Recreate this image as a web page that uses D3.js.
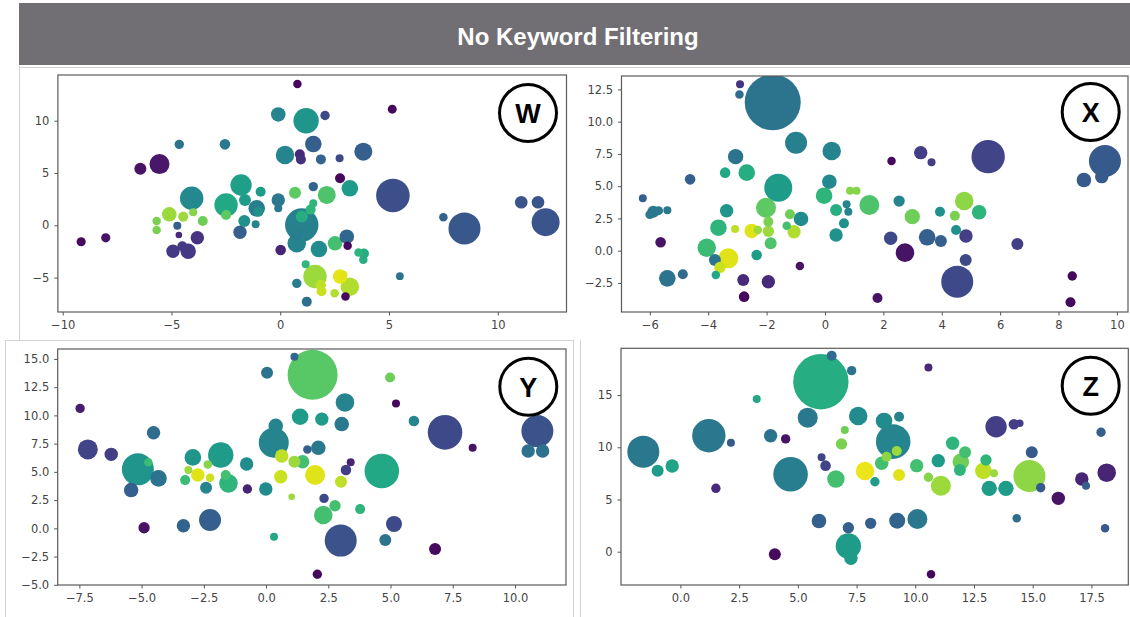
<!DOCTYPE html>
<html>
<head>
<meta charset="utf-8">
<script src="https://cdn.jsdelivr.net/npm/d3@7"></script>
<style>
  body { margin: 0; background: #fff; }
  svg { display: block; }
</style>
</head>
<body>
<svg id="chart" width="1130" height="617"></svg>
<script>
// ---- Panel W ----
const wX = [0.79,-0.09,1.19,2.06,5.15,-4.64,-2.54,1.52,3.82,0.22,0.9,0.95,1.87,2.73,-5.55,-6.43,2.75,-1.8,1.52,3.2,-0.9,0.68,2.14,-4.07,-2.49,-1.62,-1.08,-0.09,-0.09,1.52,1.4,-1.0,5.18,11.08,11.85,12.2,8.47,7.5,0.99,0.99,-5.1,-4.46,-4.0,-5.68,-5.68,-3.56,-4.73,-4.66,-3.81,-2.49,-1.65,-1.13,-1.85,-9.15,-8.02,-4.93,-4.23,-4.5,0.02,0.76,1.78,2.52,3.06,3.1,3.6,3.85,3.82,5.5,1.17,1.6,1.9,2.75,2.93,3.2,2.5,3.0,0.76,1.22,0.76,1.86];
const wY = [13.5,10.6,10.0,10.5,11.1,7.74,7.74,7.77,7.04,6.72,6.8,6.3,6.3,6.4,5.85,5.4,4.5,3.85,3.7,3.54,3.21,3.12,2.9,2.58,1.94,2.42,1.62,2.42,1.63,2.1,1.5,1.3,2.85,2.2,2.2,0.3,-0.3,0.77,0.03,0.83,1.05,0.82,1.24,0.41,-0.45,0.41,-0.04,-0.93,-1.19,0.98,0.41,0.1,-0.67,-1.57,-1.2,-2.48,-2.48,-2.0,-2.36,-1.72,-2.27,-1.72,-1.09,-1.95,-2.6,-2.7,-3.3,-4.86,-3.73,-4.9,-6.3,-4.9,-4.7,-5.87,-6.5,-6.8,-5.55,-7.3,-0.93,-5.7];
const wSize = [18,53,161,22,20,22,28,69,81,86,25,25,25,16,100,36,25,114,22,69,25,36,81,137,137,36,69,45,16,16,25,25,282,40,40,196,256,18,279,36,53,25,16,18,18,25,16,11,45,25,36,16,45,21,21,45,59,25,28,86,69,53,53,18,18,25,18,15,16,137,25,53,12,86,18,18,22,25,36,28];
const wTone = [0.02,0.45,0.52,0.22,0.02,0.38,0.4,0.3,0.3,0.45,0.12,0.14,0.32,0.22,0.06,0.05,0.02,0.56,0.32,0.55,0.55,0.75,0.72,0.47,0.6,0.55,0.42,0.4,0.4,0.65,0.65,0.5,0.24,0.26,0.26,0.26,0.27,0.32,0.43,0.62,0.85,0.85,0.82,0.8,0.8,0.78,0.3,0.12,0.15,0.75,0.5,0.45,0.3,0.03,0.05,0.17,0.17,0.17,0.1,0.45,0.48,0.7,0.33,0.02,0.65,0.62,0.62,0.38,0.66,0.85,0.92,0.96,0.95,0.88,0.88,0.02,0.42,0.36,0.42,0.9];
const wXTicks = [-10, -5, 0, 5, 10];
const wYTicks = [-5, 0, 5, 10];

// ---- Panel X ----
const xX = [-2.91,-2.93,-1.79,-0.99,0.23,-3.06,-3.42,-2.68,-4.62,-1.6,0.15,-0.03,0.86,1.08,1.52,0.74,0.8,0.65,0.38,0.38,-6.24,-5.88,-6.0,-5.7,-5.4,-3.37,-2.02,-1.2,-0.82,-1.94,-1.31,-3.65,-3.08,-2.51,-1.94,-2.3,-1.06,-1.86,-4.05,-5.63,-2.34,-3.31,-3.77,-3.6,-3.74,-5.4,-4.87,-0.86,-2.8,-1.94,-2.77,1.8,2.28,3.28,3.65,5.59,9.59,8.87,9.48,2.54,2.99,3.94,4.77,4.45,5.28,4.49,2.25,2.74,3.5,3.97,4.83,4.82,4.53,6.59,8.47,8.41];
const xY = [12.9,12.1,11.5,8.37,7.73,7.29,6.05,6.05,5.53,4.88,5.35,4.26,4.65,4.65,3.54,3.6,3.02,2.12,1.22,3.15,4.06,3.02,2.8,3.1,3.14,3.1,3.33,2.82,2.46,2.25,1.94,1.78,1.68,1.53,1.5,1.6,1.47,0.57,0.23,0.65,-0.33,-0.59,-0.72,-1.3,-1.88,-2.14,-1.83,-1.19,-2.27,-2.4,-3.56,-3.67,6.95,7.6,6.85,7.29,6.95,5.48,5.74,3.85,2.64,3.02,3.85,2.71,2.98,1.6,0.96,-0.15,1.04,0.75,1.14,-0.72,-2.4,0.52,-1.96,-4.0];
const xSize = [16,18,784,121,86,59,28,69,28,196,53,69,16,16,100,16,16,25,45,36,16,36,20,20,16,45,100,25,53,25,18,69,16,53,32,18,45,36,86,28,28,100,36,32,18,69,25,18,36,45,28,25,18,45,16,279,256,53,45,32,59,25,86,25,53,25,45,86,69,36,45,36,256,36,22,25];
const xTone = [0.15,0.35,0.38,0.43,0.45,0.38,0.6,0.62,0.3,0.55,0.47,0.65,0.82,0.82,0.72,0.45,0.45,0.5,0.5,0.62,0.3,0.4,0.4,0.4,0.4,0.52,0.75,0.78,0.48,0.8,0.7,0.65,0.9,0.95,0.85,0.85,0.88,0.72,0.68,0.05,0.55,0.95,0.38,0.92,0.6,0.38,0.35,0.05,0.12,0.12,0.02,0.05,0.02,0.18,0.18,0.2,0.28,0.28,0.28,0.45,0.78,0.5,0.83,0.8,0.65,0.5,0.22,0.05,0.3,0.3,0.18,0.22,0.22,0.18,0.02,0.02];
const xXTicks = [-6, -4, -2, 0, 2, 4, 6, 8, 10];
const xYTicks = [-2.5, 0, 2.5, 5, 7.5, 10, 12.5];

// ---- Panel Y ----
const yX = [-7.47,-7.16,-6.22,-4.52,-5.15,-4.73,-4.32,-5.42,-4.9,-2.94,-1.82,-2.34,-3.12,-2.74,-2.25,-3.25,-1.62,-1.51,-2.41,-0.78,-0.75,-0.01,-2.25,-3.32,0.04,1.14,1.87,1.37,0.39,0.31,1.66,0.63,1.14,1.47,0.59,1.03,0.32,3.17,2.24,3.04,2.1,4.98,5.22,5.94,7.19,8.3,10.9,10.53,11.11,3.4,3.21,1.97,3.01,4.65,2.33,2.77,2.3,3.78,3.0,5.14,4.79,6.79,2.06];
const yY = [10.62,6.99,6.55,8.46,5.22,5.84,4.42,3.39,0.05,6.28,6.49,5.66,5.16,4.72,4.48,4.27,4.72,3.98,3.6,5.69,3.48,3.48,0.73,0.23,13.77,15.2,13.6,9.88,9.08,7.58,6.99,6.4,5.9,5.9,4.57,2.8,-0.74,11.15,9.67,9.23,7.13,13.36,11.06,9.5,8.5,7.13,8.61,6.84,6.84,5.84,5.16,4.72,4.13,5.07,2.65,2.0,1.18,1.7,-1.09,0.38,-1.04,-1.83,-4.07];
const ySize = [22,100,45,45,256,18,69,53,32,69,161,18,16,45,18,25,25,86,36,45,22,45,121,45,36,16,625,69,53,225,18,45,36,45,45,11,16,86,45,53,53,25,16,28,299,16,256,45,45,16,28,100,36,299,22,32,86,25,256,64,36,36,22];
const yTone = [0.08,0.2,0.18,0.35,0.52,0.68,0.38,0.3,0.05,0.52,0.55,0.82,0.85,0.95,0.92,0.68,0.7,0.65,0.45,0.48,0.1,0.48,0.3,0.32,0.38,0.33,0.74,0.55,0.45,0.45,0.3,0.9,0.85,0.7,0.92,0.85,0.6,0.45,0.55,0.4,0.4,0.78,0.02,0.45,0.22,0.05,0.25,0.37,0.37,0.1,0.18,0.95,0.9,0.6,0.22,0.7,0.7,0.65,0.25,0.22,0.38,0.03,0.02];
const yXTicks = [-7.5, -5, -2.5, 0, 2.5, 5, 7.5, 10];
const yYTicks = [-5, -2.5, 0, 2.5, 5, 7.5, 10, 12.5, 15];

// ---- Panel Z ----
const zX = [-1.58,-0.97,-0.35,1.21,2.15,1.51,3.25,3.84,4.48,4.69,5.42,5.98,6.44,7.29,7.57,7.0,6.86,6.01,6.18,6.62,7.86,5.9,7.15,7.15,7.26,4.02,8.1,8.67,9.31,9.06,9.21,8.78,8.57,8.28,9.31,10.06,10.56,11.09,10.98,11.59,12.12,11.94,11.9,13.01,12.9,13.35,13.15,13.86,13.44,14.2,14.45,14.96,14.86,15.34,16.09,17.09,17.27,18.15,17.91,18.08,14.32,10.09,9.23,10.56,10.67];
const zY = [9.58,7.76,8.21,11.11,10.44,6.07,14.63,11.11,10.8,7.41,12.84,16.28,18.77,17.34,13.0,11.66,10.32,9.04,8.24,6.96,7.73,2.94,2.3,0.55,-0.63,-0.25,2.72,12.52,12.93,10.54,9.65,9.1,8.47,6.7,7.35,8.24,7.13,6.32,8.72,10.38,9.52,8.62,7.82,8.78,7.73,7.51,6.07,6.07,11.97,12.2,12.3,9.52,7.25,6.13,5.11,6.96,6.32,7.57,11.44,2.24,3.2,3.13,2.97,17.63,-2.17];
const zSize = [256,36,45,279,16,22,16,45,22,299,100,767,25,22,86,16,32,16,28,76,86,53,32,161,45,36,32,69,25,299,25,25,45,22,36,45,22,100,45,45,36,69,36,32,69,16,59,59,114,28,14,36,256,22,45,45,16,86,22,18,18,100,64,16,18];
const zTone = [0.4,0.55,0.58,0.4,0.28,0.12,0.6,0.38,0.05,0.42,0.4,0.62,0.35,0.38,0.48,0.78,0.8,0.2,0.2,0.7,0.97,0.3,0.3,0.55,0.55,0.03,0.3,0.48,0.45,0.45,0.85,0.83,0.7,0.55,0.95,0.7,0.82,0.85,0.55,0.65,0.7,0.78,0.65,0.65,0.9,0.85,0.55,0.55,0.18,0.18,0.18,0.28,0.83,0.28,0.05,0.1,0.3,0.1,0.3,0.28,0.35,0.4,0.32,0.12,0.02];
const zXTicks = [0, 2.5, 5, 7.5, 10, 12.5, 15, 17.5];
const zYTicks = [0, 5, 10, 15];

const titleText = "No Keyword Filtering";

// ---- layout ----
const panels = [
  { label: "W", xs: wX, ys: wY, sizes: wSize, tones: wTone, xTicks: wXTicks, yTicks: wYTicks,
    xFmt: "d", yFmt: "d", xDom: [-10.22, 13.16], yDom: [-8.29, 14.37],
    box: [57.9, 75, 566.5, 312], badge: [528, 113] },
  { label: "X", xs: xX, ys: xY, sizes: xSize, tones: xTone, xTicks: xXTicks, yTicks: xYTicks,
    xFmt: "d", yFmt: ".1f", xDom: [-6.97, 10.38], yDom: [-4.75, 13.54],
    box: [621.5, 76, 1128, 312], badge: [1090.7, 112] },
  { label: "Y", xs: yX, ys: yY, sizes: ySize, tones: yTone, xTicks: yXTicks, yTicks: yYTicks,
    xFmt: ".1f", yFmt: ".1f", xDom: [-8.37, 12.05], yDom: [-5.02, 15.88],
    box: [57.7, 349, 566, 585], badge: [528.3, 386.7] },
  { label: "Z", xs: zX, ys: zY, sizes: zSize, tones: zTone, xTicks: zXTicks, yTicks: zYTicks,
    xFmt: ".1f", yFmt: "d", xDom: [-2.53, 19.07], yDom: [-3.19, 19.48],
    box: [621, 348.3, 1128.3, 585], badge: [1090.7, 385.7] }
];

const svg = d3.select("#chart");
const tickFont = "'DejaVu Sans', sans-serif";
const rScale = d3.scaleSqrt().domain([0, 100]).range([0, 10]);

// light borders of the four image tiles
const edge = svg.append("g").attr("stroke", "#d2d2d2").attr("stroke-width", 1).attr("fill", "none");
edge.append("line").attr("x1", 19).attr("x2", 1130).attr("y1", 67.5).attr("y2", 67.5);
edge.append("line").attr("x1", 19.5).attr("x2", 19.5).attr("y1", 66).attr("y2", 340);
edge.append("rect").attr("x", 5.5).attr("y", 340.5).attr("width", 568).attr("height", 280);
edge.append("line").attr("x1", 580.5).attr("x2", 580.5).attr("y1", 340).attr("y2", 617);

// title banner
svg.append("rect").attr("x", 19).attr("y", 3).attr("width", 1111).attr("height", 62).attr("fill", "#716f74");
svg.append("text").attr("x", 578).attr("y", 36)
  .attr("text-anchor", "middle").attr("dominant-baseline", "central")
  .attr("font-family", "'Liberation Sans', Arial, sans-serif").attr("font-weight", "bold")
  .attr("font-size", 24).attr("fill", "#ffffff").text(titleText);

panels.forEach((p) => {
  const [x0, y0, x1, y1] = p.box;
  const x = d3.scaleLinear().domain(p.xDom).range([x0, x1]);
  const y = d3.scaleLinear().domain(p.yDom).range([y1, y0]);
  const g = svg.append("g");

  const clipId = "clip-" + p.label;
  svg.append("clipPath").attr("id", clipId)
    .append("rect").attr("x", x0).attr("y", y0).attr("width", x1 - x0).attr("height", y1 - y0);

  // larger bubbles first so the small ones stay visible on top
  const pts = p.xs.map((v, k) => ({ x: v, y: p.ys[k], s: p.sizes[k], t: p.tones[k] }))
    .sort((a, b) => b.s - a.s);

  g.append("g").attr("clip-path", `url(#${clipId})`)
    .selectAll("circle").data(pts).join("circle")
    .attr("cx", d => x(d.x)).attr("cy", d => y(d.y))
    .attr("r", d => rScale(d.s))
    .attr("fill", d => d3.interpolateViridis(d.t));

  const xAxis = g.append("g").attr("transform", `translate(0,${y1})`)
    .call(d3.axisBottom(x).tickValues(p.xTicks).tickFormat(d3.format(p.xFmt)).tickSize(3.5).tickPadding(5));
  const yAxis = g.append("g").attr("transform", `translate(${x0},0)`)
    .call(d3.axisLeft(y).tickValues(p.yTicks).tickFormat(d3.format(p.yFmt)).tickSize(3.5).tickPadding(5));
  [xAxis, yAxis].forEach(a => {
    a.select(".domain").remove();
    a.selectAll(".tick line").attr("stroke", "#555");
    a.selectAll(".tick text").attr("fill", "#444").attr("font-family", tickFont).attr("font-size", 11.5);
  });

  g.append("rect").attr("x", x0).attr("y", y0).attr("width", x1 - x0).attr("height", y1 - y0)
    .attr("fill", "none").attr("stroke", "#5a5a5a").attr("stroke-width", 1.2);

  const [bx, by] = p.badge;
  g.append("circle").attr("cx", bx).attr("cy", by).attr("r", 28.5)
    .attr("fill", "#fff").attr("stroke", "#000").attr("stroke-width", 3);
  g.append("text").attr("x", bx).attr("y", by + 1)
    .attr("text-anchor", "middle").attr("dominant-baseline", "central")
    .attr("font-family", "'Liberation Sans', Arial, sans-serif").attr("font-weight", "bold")
    .attr("font-size", 27).attr("fill", "#000").text(p.label);
});
</script>
</body>
</html>
